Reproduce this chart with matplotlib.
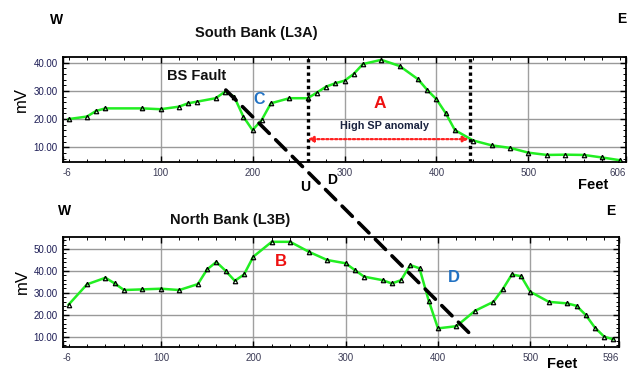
import matplotlib
matplotlib.use("Agg")
import matplotlib.pyplot as plt
from matplotlib.patches import ConnectionPatch
from matplotlib.ticker import MultipleLocator, FixedLocator

plt.rcParams['font.family'] = ['Liberation Sans', 'DejaVu Sans']

# ---- data ----
x_south = [0, 20, 30, 40, 80, 100, 120, 130, 140, 160, 170, 180, 190, 200, 210,
           220, 240, 260, 270, 280, 290, 300, 310, 320, 340, 360, 380, 390, 400,
           410, 420, 440, 460, 480, 500, 520, 540, 560, 580, 600]
y_south = [20.0, 20.9, 22.9, 23.8, 23.8, 23.5, 24.4, 25.6, 26.2, 27.4, 29.7, 28.0,
           20.9, 16.1, 19.7, 25.6, 27.4, 27.4, 29.4, 31.5, 32.7, 33.6, 36.0, 39.5,
           41.0, 38.8, 34.1, 30.3, 27.0, 22.1, 16.1, 12.4, 10.7, 9.8, 8.1, 7.3,
           7.4, 7.3, 6.4, 5.4]

x_north = [0, 20, 40, 50, 60, 80, 100, 120, 140, 150, 160, 170, 180, 190, 200,
           220, 240, 260, 280, 300, 310, 320, 340, 350, 360, 370, 380, 390, 400,
           420, 440, 460, 470, 480, 490, 500, 520, 540, 550, 560, 570, 580, 590]
y_north = [24.6, 33.9, 36.9, 34.3, 31.3, 31.6, 31.9, 31.3, 34.0, 40.7, 44.1, 40.1,
           35.5, 38.4, 46.5, 53.3, 53.3, 48.8, 45.0, 43.5, 40.4, 37.4, 35.8, 34.3,
           35.8, 42.7, 41.2, 26.4, 13.8, 14.8, 21.8, 25.9, 31.6, 38.4, 37.6, 30.5,
           25.9, 25.2, 24.1, 19.9, 14.1, 10.0, 8.8]

south_xticks = [-6, 100, 200, 300, 400, 500, 606]
north_xticks = [-6, 100, 200, 300, 400, 500, 596]
south_yticks = [10, 20, 30, 40]
north_yticks = [10, 20, 30, 40, 50]

anomaly_bounds = [260, 436]     # dotted verticals (feet)
anomaly_level = 12.9            # mV of the red arrow
fault_start = (171, 30.3)       # on south profile
fault_end = (435, 11.2)         # on north profile

W, H = 642, 384
fig = plt.figure(figsize=(W / 100, H / 100), dpi=100)

def px(x, y):
    return x / W, 1 - y / H

ax1 = fig.add_axes([63 / W, 1 - 162 / H, (626 - 63) / W, (162 - 57) / H])
ax2 = fig.add_axes([63 / W, 1 - 347 / H, (619 - 63) / W, (347 - 237) / H])

green = '#22ee22'
tick_col = '#1c1c55'
xtick_col = '#3a3a55'

def style(ax, xticks, yticks, xlim, ylim):
    ax.set_xlim(*xlim)
    ax.set_ylim(*ylim)
    ax.xaxis.set_major_locator(FixedLocator(xticks))
    ax.set_xticklabels([str(t) for t in xticks])
    ax.yaxis.set_major_locator(FixedLocator(yticks))
    ax.set_yticklabels(['%.2f' % t for t in yticks])
    ax.xaxis.set_minor_locator(MultipleLocator(20))
    ax.yaxis.set_minor_locator(MultipleLocator(2))
    ax.tick_params(which='both', direction='in', top=True, right=True)
    ax.tick_params(which='major', length=4, width=1)
    ax.tick_params(which='minor', length=2, width=0.7)
    ax.tick_params(axis='x', labelsize=7, labelcolor=xtick_col, pad=4)
    ax.tick_params(axis='y', labelsize=7, labelcolor=tick_col, pad=4)
    labs = ax.get_xticklabels()
    labs[0].set_ha('left')
    labs[-1].set_ha('right')
    for t in xticks[1:-1]:
        ax.axvline(t, color='#a0a0a0', lw=1.0, zorder=0)
    for t in yticks:
        ax.axhline(t, color='#999999', lw=1.0, zorder=0)
    for s in ax.spines.values():
        s.set_linewidth(1.3)
        s.set_color('black')

style(ax1, south_xticks, south_yticks, (-6, 606), (4.8, 42.0))
style(ax2, north_xticks, north_yticks, (-6, 596), (5.3, 55.5))

for ax, xs, ys in [(ax1, x_south, y_south), (ax2, x_north, y_north)]:
    ax.plot(xs, ys, color=green, lw=1.8, zorder=3)
    ax.plot(xs, ys, ls='none', marker='^', ms=3.2, mfc='none', mec='black',
            mew=0.9, zorder=4)

# anomaly bounds and arrow
for b in anomaly_bounds:
    ax1.axvline(b, color='black', lw=2.4, ls=(0, (1, 1)), zorder=5)
ax1.annotate('', xy=(anomaly_bounds[0], anomaly_level),
             xytext=(anomaly_bounds[1] - 1, anomaly_level),
             arrowprops=dict(arrowstyle='<|-|>', color='#ff2020', lw=1.6,
                             ls=(0, (1, 1)), mutation_scale=8,
                             shrinkA=0, shrinkB=0), zorder=6)

# fault line
con = ConnectionPatch(xyA=fault_start, coordsA=ax1.transData,
                      xyB=fault_end, coordsB=ax2.transData,
                      color='black', lw=2.6, ls=(0, (4, 2.5)), zorder=10)
fig.add_artist(con)

bold = dict(fontweight='bold', ha='center', va='center')
fig.text(*px(57, 20), 'W', fontsize=10, **bold)
fig.text(*px(622, 19), 'E', fontsize=10, **bold)
fig.text(*px(256, 33), 'South Bank (L3A)', fontsize=10.5, color='#111111', **bold)
fig.text(*px(197, 76), 'BS Fault', fontsize=10.5, color='#111111', **bold)
fig.text(*px(259, 100), 'C', fontsize=11.5, color='#2272c3', **bold)
fig.text(*px(380, 103), 'A', fontsize=12.5, color='#ee1111', **bold)
fig.text(*px(384, 126), 'High SP anomaly', fontsize=7.8, color='#1a2340', **bold)
fig.text(*px(305, 187), 'U', fontsize=10, **bold)
fig.text(*px(332, 180), 'D', fontsize=10, **bold)
fig.text(*px(593, 185), 'Feet', fontsize=10.5, **bold)
fig.text(*px(65, 211), 'W', fontsize=10, **bold)
fig.text(*px(611, 211), 'E', fontsize=10, **bold)
fig.text(*px(230, 220), 'North Bank (L3B)', fontsize=10.5, color='#111111', **bold)
fig.text(*px(281, 262), 'B', fontsize=12, color='#ee1111', **bold)
fig.text(*px(454, 277), 'D', fontsize=12, color='#2272c3', **bold)
fig.text(*px(562, 364), 'Feet', fontsize=10.5, **bold)
fig.text(*px(21, 100), 'mV', fontsize=12, rotation=90, ha='center', va='center')
fig.text(*px(22, 282), 'mV', fontsize=12, rotation=90, ha='center', va='center')

fig.savefig('out.png', dpi=100)
